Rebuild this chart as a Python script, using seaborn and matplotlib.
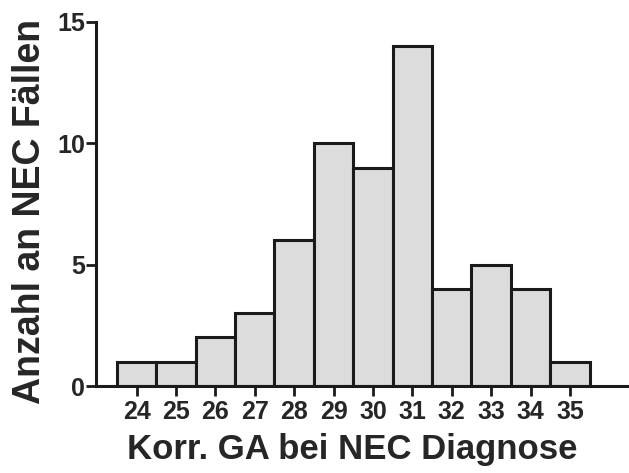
import matplotlib
matplotlib.use("Agg")
import matplotlib.pyplot as plt
import seaborn as sns

# corrected gestational age at NEC diagnosis (weeks) and number of cases
ga_weeks = [24, 25, 26, 27, 28, 29, 30, 31, 32, 33, 34, 35]
n_cases = [1, 1, 2, 3, 6, 10, 9, 14, 4, 5, 4, 1]
y_ticks = [0, 5, 10, 15]

sns.set_style("ticks")
plt.rcParams['font.family'] = ['Liberation Sans', 'DejaVu Sans']

fig = plt.figure(figsize=(6.29, 4.73), dpi=100)
ax = fig.add_axes([0.1526, 0.1839, 0.8474, 0.7696])

sns.histplot(x=ga_weeks, weights=n_cases, discrete=True, ax=ax,
             color='#dcdcdc', alpha=1, edgecolor='#1a1a1a', linewidth=2.2)

ax.set_xlim(22.97, 36.5)
ax.set_ylim(0, 15)
ax.set_xticks(ga_weeks)
ax.set_yticks(y_ticks)
ax.tick_params(axis='both', width=2, length=7, color='#1a1a1a', labelsize=18)
ax.tick_params(axis='x', pad=3)
ax.tick_params(axis='y', pad=1)
for lab in ax.get_xticklabels() + ax.get_yticklabels():
    lab.set_fontweight('bold')
    lab.set_color('#262626')

for s in ['top', 'right']:
    ax.spines[s].set_visible(False)
for s in ['left', 'bottom']:
    ax.spines[s].set_linewidth(2.2)
    ax.spines[s].set_color('#1a1a1a')

ax.set_xlabel('Korr. GA bei NEC Diagnose', fontsize=25, fontweight='bold')
ax.set_ylabel('Anzahl an NEC Fällen', fontsize=27, fontweight='bold')
ax.xaxis.set_label_coords(0.48, -0.13)
ax.yaxis.set_label_coords(-0.09, 0.48)

fig.savefig('out.png', dpi=100)
